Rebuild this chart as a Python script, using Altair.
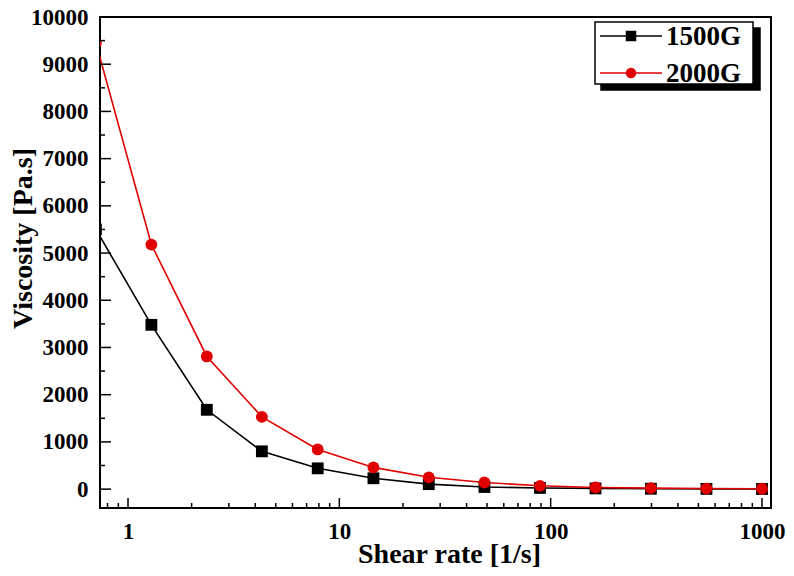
import altair as alt
import pandas as pd

shear_rate = [0.705, 1.29, 2.36, 4.3, 7.9, 14.5, 26.5, 48.6, 89, 163, 298, 546, 1000]
visc_1500 = [5500, 3480, 1680, 800, 440, 230, 105, 45, 25, 15, 8, 5, 3]
visc_2000 = [9450, 5180, 2810, 1530, 840, 460, 250, 140, 70, 35, 20, 12, 8]
series_names = ["1500G", "2000G"]
series_colors = ["#000000", "#e00000"]
series_shapes = ["square", "circle"]

x_major = [1, 10, 100, 1000]
x_minor = [0.8, 0.9, 2, 3, 4, 5, 6, 7, 8, 9, 20, 30, 40, 50, 60, 70, 80, 90,
           200, 300, 400, 500, 600, 700, 800, 900]
y_major = list(range(0, 10001, 1000))
y_minor = list(range(500, 10000, 1000))

W, H = 671, 491
FONT = "Liberation Serif"

rows = []
for name, vals in zip(series_names, [visc_1500, visc_2000]):
    for x, v in zip(shear_rate, vals):
        rows.append({"x": x, "v": v, "series": name})
df = pd.DataFrame(rows)

xscale = alt.Scale(type="log", domain=[0.737, 1103], nice=False)
yscale = alt.Scale(domain=[-400, 10000], nice=False, zero=False)


def color_enc(field):
    return alt.Color(f"{field}:N", scale=alt.Scale(domain=series_names, range=series_colors), legend=None)


def shape_enc(field):
    return alt.Shape(f"{field}:N", scale=alt.Scale(domain=series_names, range=series_shapes), legend=None)


x_axis = alt.Axis(values=x_major, format="d", title="Shear rate [1/s]", ticks=False, domain=False,
                  grid=False, labelPadding=12, titleX=349, titleY=54, titleBaseline="alphabetic",
                  titleAnchor="middle", titleAlign="center")
y_axis = alt.Axis(values=y_major, format="d", title="Viscosity [Pa.s]", ticks=False, domain=False,
                  grid=False, labelPadding=12, titleX=-69, titleY=221, titleBaseline="alphabetic",
                  titleAngle=-90, titleAlign="center")

base = alt.Chart(df)
lines = base.mark_line(clip=True, strokeWidth=1.6).encode(
    x=alt.X("x:Q", scale=xscale, axis=x_axis),
    y=alt.Y("v:Q", scale=yscale, axis=y_axis),
    color=color_enc("series"),
    detail="series:N",
)
points = base.mark_point(clip=True, filled=True, opacity=1, size=140).encode(
    x=alt.X("x:Q", scale=xscale),
    y=alt.Y("v:Q", scale=yscale),
    color=color_enc("series"),
    shape=shape_enc("series"),
)


def xticks(vals, length):
    return alt.Chart(pd.DataFrame({"t": vals})).mark_rule(color="black", strokeWidth=1.5).encode(
        x=alt.X("t:Q", scale=xscale), y=alt.value(H), y2=alt.value(H - length))


def yticks(vals, length):
    return alt.Chart(pd.DataFrame({"t": vals})).mark_rule(color="black", strokeWidth=1.5).encode(
        y=alt.Y("t:Q", scale=yscale), x=alt.value(0), x2=alt.value(length))


# legend
leg = pd.DataFrame({"name": series_names, "py": [19, 56]})
box = pd.DataFrame({"x1": [501, 495], "x2": [660, 653], "y1": [11, 5], "y2": [73, 67],
                    "fill": ["black", "white"]})
leg_boxes = alt.Chart(box).mark_rect(stroke="black", strokeWidth=1.5).encode(
    x=alt.X("x1:Q", scale=None), x2="x2:Q", y=alt.Y("y1:Q", scale=None), y2="y2:Q",
    fill=alt.Fill("fill:N", scale=None))
leg_lines = alt.Chart(leg).mark_rule(strokeWidth=1.6).encode(
    y=alt.Y("py:Q", scale=None), x=alt.value(500), x2=alt.value(562), color=color_enc("name"))
leg_pts = alt.Chart(leg).mark_point(filled=True, opacity=1, size=110).encode(
    y=alt.Y("py:Q", scale=None), x=alt.value(531),
    color=color_enc("name"), shape=shape_enc("name"))
leg_txt = alt.Chart(leg).mark_text(align="left", baseline="middle", font=FONT, fontWeight="bold",
                                   fontSize=27, color="black", dy=1).encode(
    y=alt.Y("py:Q", scale=None), x=alt.value(566), text="name:N")

chart = alt.layer(
    lines, points,
    xticks(x_major, 10), xticks(x_minor, 5),
    yticks(y_major, 11), yticks(y_minor, 5),
    leg_boxes, leg_lines, leg_pts, leg_txt,
).properties(
    width=W, height=H,
    autosize=alt.AutoSizeParams(type="none"),
    padding={"left": 92, "top": 9, "right": 15, "bottom": 60},
).configure_view(
    stroke="black", strokeWidth=2
).configure_axis(
    labelFont=FONT, labelFontWeight="bold", labelFontSize=23, labelColor="black",
    titleFont=FONT, titleFontWeight="bold", titleFontSize=28, titleColor="black",
)

chart.save("out.html", embed_options={"renderer": "svg", "actions": False})
